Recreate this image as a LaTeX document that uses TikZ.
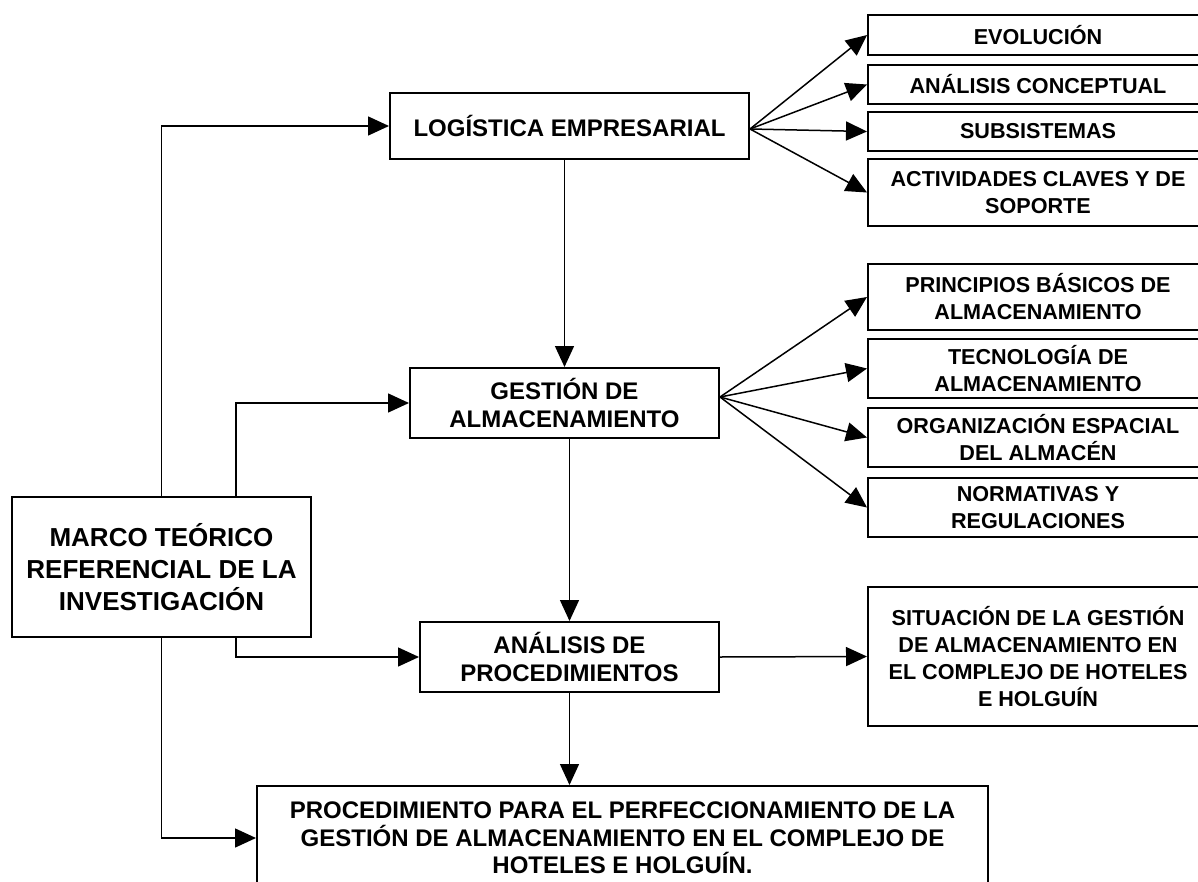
\documentclass[tikz,border=0pt]{standalone}
\usepackage{fontspec}
\setmainfont{Liberation Sans}
\usepackage{tikz}
\usetikzlibrary{arrows.meta}

\begin{document}
\begin{tikzpicture}[x=0.5pt,y=-0.5pt,
	box/.style={draw,line width=1pt,inner sep=0pt,align=center,font=\fontsize{12}{13.8}\selectfont\bfseries},
	subbox/.style={box,minimum width=170pt,font=\fontsize{10.8}{13.5}\selectfont\bfseries},
	link/.style={line width=0.75pt,-{Triangle[length=10.5pt,width=9.5pt]}}]
	\useasboundingbox (0,0) rectangle (1198,882);
	\clip (0,0) rectangle (1198,882);
	% main column
	\node[box,minimum width=179.5pt,minimum height=33pt] (log) at (569.5,126) {LOGÍSTICA EMPRESARIAL};
	\node[box,minimum width=154.5pt,minimum height=35pt] (gest) at (564.5,403) {GESTIÓN DE\\ALMACENAMIENTO};
	\node[box,minimum width=149.5pt,minimum height=35pt] (anal) at (569.5,657) {ANÁLISIS DE\\PROCEDIMIENTOS};
	\node[box,minimum width=365.5pt,minimum height=52pt] (proc) at (622.5,838) {PROCEDIMIENTO PARA EL PERFECCIONAMIENTO DE LA\\GESTIÓN DE ALMACENAMIENTO EN EL COMPLEJO DE\\HOTELES E HOLGUÍN.};
	\node[box,minimum width=149.5pt,minimum height=70pt,font=\fontsize{13}{16}\selectfont\bfseries] (marco) at (161.5,567) {MARCO TEÓRICO\\REFERENCIAL DE LA\\INVESTIGACIÓN};
	% right column
	\node[subbox,minimum height=20pt] (evo) at (1038,35) {EVOLUCIÓN};
	\node[subbox,minimum height=19.5pt] (conc) at (1038,84.5) {ANÁLISIS CONCEPTUAL};
	\node[subbox,minimum height=19.5pt] (subs) at (1038,131.5) {SUBSISTEMAS};
	\node[subbox,minimum height=33.5pt] (activ) at (1038,192.5) {ACTIVIDADES CLAVES Y DE\\SOPORTE};
	\node[subbox,minimum height=33pt] (princ) at (1038,297) {PRINCIPIOS BÁSICOS DE\\ALMACENAMIENTO};
	\node[subbox,minimum height=29.5pt] (tecn) at (1038,368.5) {TECNOLOGÍA DE\\ALMACENAMIENTO};
	\node[subbox,minimum height=29.5pt] (organ) at (1038,437.5) {ORGANIZACIÓN ESPACIAL\\DEL ALMACÉN};
	\node[subbox,minimum height=29.5pt] (norm) at (1038,507.5) {NORMATIVAS Y\\REGULACIONES};
	\node[subbox,minimum height=69.5pt] (sit) at (1038,656.5) {SITUACIÓN DE LA GESTIÓN\\DE ALMACENAMIENTO EN\\EL COMPLEJO DE HOTELES\\E HOLGUÍN};
	% branch points on the marco box
	\coordinate (mtop) at (236,497);
	\coordinate (mbot) at (236,637);
	% links
	\draw[link] (marco.north) |- (log.west);
	\draw[link] (mtop) |- (gest.west);
	\draw[link] (mbot) |- (anal.west);
	\draw[link] (marco.south) |- (proc.west);
	\draw[link] (log.south -| gest.north) -- (gest.north);
	\draw[link] (gest.south -| anal.north) -- (anal.north);
	\draw[link] (anal.south) -- (anal.south |- proc.north);
	\draw[link] (anal.east) -- (sit.west);
	\foreach \n in {evo,conc,subs,activ}
	{ \draw[link] ([yshift=-1.5pt]log.east) -- (\n.west);
	}
	\foreach \n in {princ,tecn,organ,norm}
	{ \draw[link] ([yshift=3pt]gest.east) -- (\n.west);
	}
\end{tikzpicture}
\end{document}
